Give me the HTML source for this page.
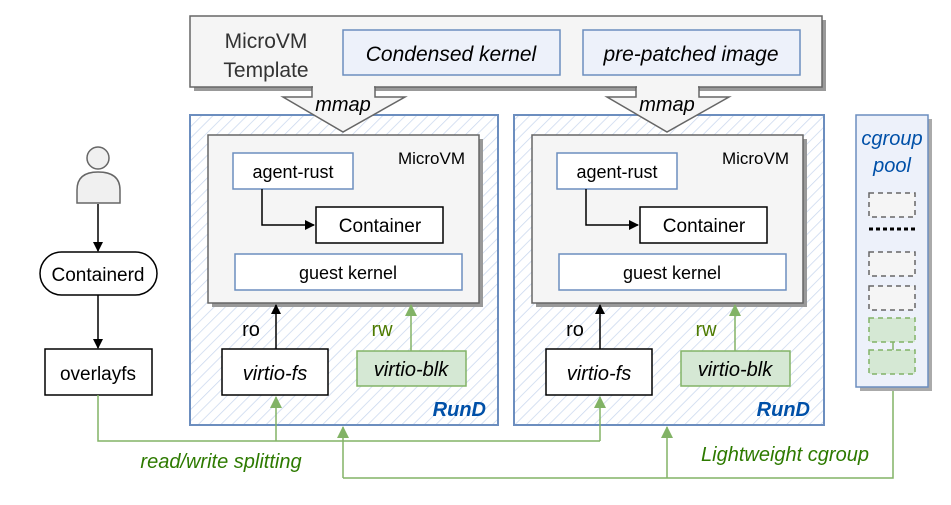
<!DOCTYPE html>
<html><head><meta charset="utf-8"><style>
body{margin:0;background:#fff}
svg text{font-family:"Liberation Sans",Arial,sans-serif}
</style></head><body>
<svg width="951" height="500" viewBox="0 0 951 500" xmlns="http://www.w3.org/2000/svg">
<defs>
<pattern id="h" width="8" height="8" patternUnits="userSpaceOnUse" patternTransform="rotate(45)">
<rect width="8" height="8" fill="#fff"/><line x1="0" y1="0" x2="0" y2="8" stroke="#c9d7ee" stroke-width="1.5"/></pattern>
<marker id="ab" markerWidth="10" markerHeight="10" refX="9" refY="5" orient="auto" markerUnits="userSpaceOnUse"><path d="M0,0 L10,5 L0,10z" fill="#000"/></marker>
<marker id="ag" markerWidth="12" markerHeight="12" refX="11" refY="6" orient="auto" markerUnits="userSpaceOnUse"><path d="M0,0 L12,6 L0,12z" fill="#82b366"/></marker>
</defs>
<rect x="194" y="20" width="632" height="71" fill="#999"/>
<rect x="190" y="16" width="632" height="71" fill="#f5f5f5" stroke="#666" stroke-width="1.5"/>
<text x="266" y="48" font-size="21" text-anchor="middle" fill="#333">MicroVM</text>
<text x="266" y="77" font-size="21" text-anchor="middle" fill="#333">Template</text>
<rect x="343" y="30" width="217" height="45" fill="#edf1fa" stroke="#6c8ebf" stroke-width="1.5"/>
<text x="451" y="61" font-size="21" font-style="italic" text-anchor="middle">Condensed kernel</text>
<rect x="583" y="30" width="217" height="45" fill="#edf1fa" stroke="#6c8ebf" stroke-width="1.5"/>
<text x="691" y="61" font-size="21" font-style="italic" text-anchor="middle">pre-patched image</text>
<rect x="190" y="115" width="308" height="310" fill="url(#h)" stroke="#6c8ebf" stroke-width="2"/>
<rect x="514" y="115" width="310" height="310" fill="url(#h)" stroke="#6c8ebf" stroke-width="2"/>
<path d="M312,87 L375,87 L375,97 L405,97 L343,132 L283,97 L312,97z" fill="#f5f5f5" stroke="#666" stroke-width="1.5"/>
<rect x="313" y="85" width="61" height="4" fill="#f5f5f5"/>
<text x="343" y="111" font-size="20" font-style="italic" text-anchor="middle">mmap</text>
<path d="M636,87 L699,87 L699,97 L729,97 L667,132 L607,97 L636,97z" fill="#f5f5f5" stroke="#666" stroke-width="1.5"/>
<rect x="637" y="85" width="61" height="4" fill="#f5f5f5"/>
<text x="667" y="111" font-size="20" font-style="italic" text-anchor="middle">mmap</text>
<g id="vm">
<rect x="212" y="139" width="271" height="168" fill="#999"/>
<rect x="208" y="135" width="271" height="168" fill="#f5f5f5" stroke="#666" stroke-width="1.5"/>
<text x="465" y="164" font-size="17" text-anchor="end">MicroVM</text>
<rect x="233" y="153" width="120" height="36" fill="#fff" stroke="#6c8ebf" stroke-width="1.5"/>
<text x="293" y="178" font-size="18" text-anchor="middle">agent-rust</text>
<rect x="316" y="207" width="127" height="36" fill="#fff" stroke="#000" stroke-width="1.5"/>
<text x="380" y="232" font-size="19" text-anchor="middle">Container</text>
<path d="M262,189 L262,225 L314,225" fill="none" stroke="#000" stroke-width="1.5" marker-end="url(#ab)"/>
<rect x="235" y="254" width="227" height="36" fill="#fff" stroke="#6c8ebf" stroke-width="1.5"/>
<text x="348" y="279" font-size="18" text-anchor="middle">guest kernel</text>
<line x1="276" y1="349" x2="276" y2="305" stroke="#000" stroke-width="1.5" marker-end="url(#ab)"/>
<text x="251" y="336" font-size="20" text-anchor="middle">ro</text>
<line x1="411" y1="351" x2="411" y2="305" stroke="#82b366" stroke-width="1.5" marker-end="url(#ag)"/>
<text x="382" y="336" font-size="20" text-anchor="middle" fill="#4d7a00">rw</text>
<rect x="222" y="349" width="106" height="46" fill="#fff" stroke="#000" stroke-width="1.5"/>
<text x="275" y="380" font-size="20" font-style="italic" text-anchor="middle">virtio-fs</text>
<rect x="357" y="351" width="109" height="35" fill="#d5e8d4" stroke="#82b366" stroke-width="1.5"/>
<text x="411" y="376" font-size="20" font-style="italic" text-anchor="middle">virtio-blk</text>
<text x="486" y="416" font-size="20" font-weight="bold" font-style="italic" text-anchor="end" fill="#0050a8">RunD</text>
</g>
<use href="#vm" transform="translate(324,0)"/>
<circle cx="98" cy="158" r="11" fill="#f0f0f0" stroke="#666" stroke-width="1.5"/>
<path d="M77,203 L77,190 Q77,172 98,172 Q120,172 120,190 L120,203z" fill="#f0f0f0" stroke="#666" stroke-width="1.5"/>
<line x1="98" y1="204" x2="98" y2="251" stroke="#000" stroke-width="1.5" marker-end="url(#ab)"/>
<rect x="40" y="252" width="117" height="43" rx="21.5" fill="#fff" stroke="#000" stroke-width="1.5"/>
<text x="98" y="281" font-size="19" text-anchor="middle">Containerd</text>
<line x1="98" y1="295" x2="98" y2="348" stroke="#000" stroke-width="1.5" marker-end="url(#ab)"/>
<rect x="45" y="349" width="107" height="46" fill="#fff" stroke="#000" stroke-width="1.5"/>
<text x="98" y="380" font-size="19" text-anchor="middle">overlayfs</text>
<path d="M98,395 L98,441 L600,441" fill="none" stroke="#82b366" stroke-width="1.5"/>
<line x1="276" y1="441" x2="276" y2="397" stroke="#82b366" stroke-width="1.5" marker-end="url(#ag)"/>
<line x1="600" y1="441" x2="600" y2="397" stroke="#82b366" stroke-width="1.5" marker-end="url(#ag)"/>
<path d="M343,478 L893,478 L893,374" fill="none" stroke="#82b366" stroke-width="1.5"/>
<line x1="343" y1="478" x2="343" y2="427" stroke="#82b366" stroke-width="1.5" marker-end="url(#ag)"/>
<line x1="667" y1="478" x2="667" y2="427" stroke="#82b366" stroke-width="1.5" marker-end="url(#ag)"/>
<text x="221" y="468" font-size="20" font-style="italic" text-anchor="middle" fill="#2d7a00">read/write splitting</text>
<text x="785" y="461" font-size="20" font-style="italic" text-anchor="middle" fill="#2d7a00">Lightweight cgroup</text>
<rect x="860" y="119" width="72" height="272" fill="#aaa"/>
<rect x="856" y="115" width="72" height="272" fill="#edf1fa" stroke="#6c8ebf" stroke-width="1.5"/>
<text x="892" y="145" font-size="20" font-style="italic" text-anchor="middle" fill="#0050a8">cgroup</text>
<text x="892" y="172" font-size="20" font-style="italic" text-anchor="middle" fill="#0050a8">pool</text>
<g stroke="#666" stroke-width="1.5" stroke-dasharray="5,4" fill="#f5f5f5">
<rect x="869" y="193" width="46" height="24"/>
<rect x="869" y="252" width="46" height="24"/>
<rect x="869" y="286" width="46" height="24"/>
</g>
<line x1="869" y1="229" x2="916" y2="229" stroke="#000" stroke-width="3" stroke-dasharray="4,3"/>
<g stroke="#82b366" stroke-width="1.5" stroke-dasharray="5,4" fill="#d5e8d4">
<rect x="869" y="318" width="46" height="24"/>
<rect x="869" y="350" width="46" height="24"/>
</g>
<line x1="893" y1="342" x2="893" y2="350" stroke="#82b366" stroke-width="1.5"/>
</svg>
</body></html>
